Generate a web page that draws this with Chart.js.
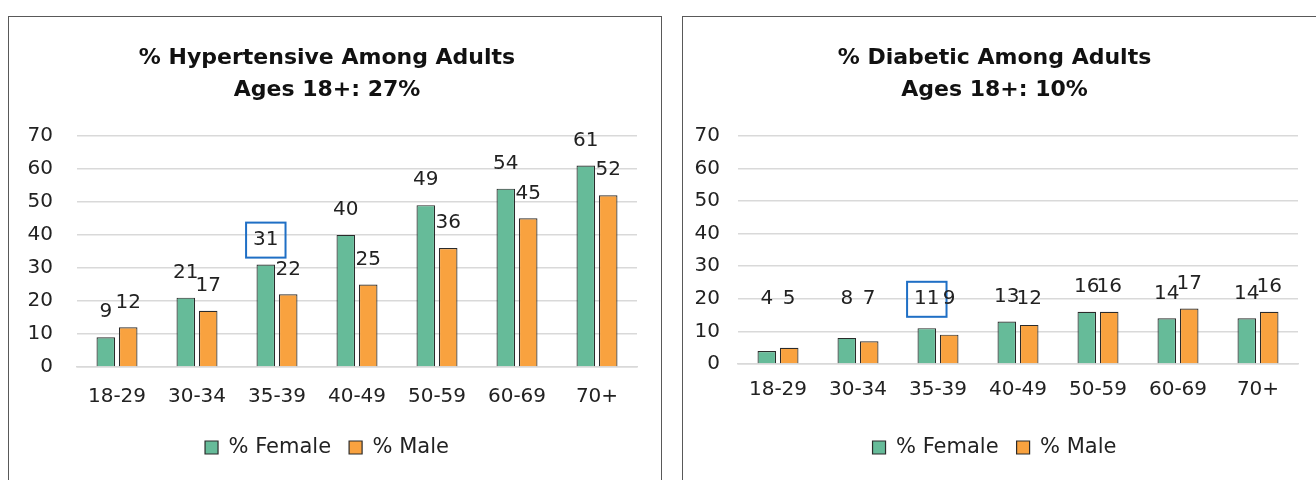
<!DOCTYPE html>
<html>
<head>
<meta charset="utf-8">
<script src="https://cdn.jsdelivr.net/npm/chart.js@4/dist/chart.umd.min.js"></script>
<style>
  html, body { margin: 0; padding: 0; background: #fff; overflow: hidden; }
  body { width: 1316px; height: 480px; position: relative; }
  .panel { position: absolute; top: 16px; border: 1.5px solid #595959; background: #fff; }
  #leftPanel { left: 8px; width: 652px; height: 480px; }
  #rightPanel { left: 682px; width: 660px; height: 480px; }
  canvas { display: block; }
</style>
</head>
<body>
<div class="panel" id="leftPanel"><canvas id="hyperChart" width="652" height="464"></canvas></div>
<div class="panel" id="rightPanel"><canvas id="diabChart" width="640" height="464"></canvas></div>
<script>
const ageGroups = ['18-29', '30-34', '35-39', '40-49', '50-59', '60-69', '70+'];
const hyperFemale = [9, 21, 31, 40, 49, 54, 61];
const hyperMale = [12, 17, 22, 25, 36, 45, 52];
const diabFemale = [4, 8, 11, 13, 16, 14, 14];
const diabMale = [5, 7, 9, 12, 16, 17, 16];
const seriesNames = ['% Female', '% Male'];
const highlightIndex = 2; // 35-39 female label gets a blue box

const FONT = "'DejaVu Sans', sans-serif";
const GREEN = '#66BB99';
const ORANGE = '#F9A23F';

// draws the value labels above the bars, plus the boxed label
const barLabels = {
    id: 'barLabels',
    afterDatasetsDraw(chart, args, opts) {
        const ctx = chart.ctx;
        const yScale = chart.scales.y;
        ctx.save();
        ctx.font = '20px ' + FONT;
        ctx.fillStyle = '#222';
        ctx.textAlign = 'center';
        ctx.textBaseline = 'middle';
        chart.data.datasets.forEach((ds, di) => {
            chart.getDatasetMeta(di).data.forEach((bar, i) => {
                let y = bar.y - opts.offset;
                if (opts.floor != null) y = Math.min(y, yScale.getPixelForValue(opts.floor));
                const txt = String(ds.data[i]);
                ctx.fillText(txt, bar.x, y);
                if (di === 0 && i === highlightIndex) {
                    const w = ctx.measureText(txt).width + 14;
                    ctx.strokeStyle = '#1F6FC5';
                    ctx.lineWidth = 2;
                    ctx.strokeRect(bar.x - w / 2, y - 17, w, 35);
                }
            });
        });
        ctx.restore();
    }
};

function makeChart(id, female, male, title, cfg) {
    return new Chart(document.getElementById(id).getContext('2d'), {
        type: 'bar',
        data: {
            labels: ageGroups,
            datasets: [
                { label: seriesNames[0], data: female, backgroundColor: GREEN, borderColor: '#2b2b2b', borderWidth: 1.2 },
                { label: seriesNames[1], data: male, backgroundColor: ORANGE, borderColor: '#2b2b2b', borderWidth: 1.2 }
            ]
        },
        plugins: [barLabels],
        options: {
            responsive: false,
            animation: false,
            categoryPercentage: 0.56,
            barPercentage: 0.83,
            layout: { padding: { left: 8, right: cfg.padRight, top: 0, bottom: 13 } },
            plugins: {
                legend: {
                    position: 'bottom',
                    labels: {
                        boxWidth: 13, boxHeight: 13, padding: 18,
                        color: '#222', font: { family: FONT, size: 21 }
                    }
                },
                title: {
                    display: true,
                    text: title,
                    color: '#111',
                    font: { family: FONT, size: 22, weight: 'bold', lineHeight: 1.45 },
                    padding: { top: 25, bottom: 30 }
                },
                tooltip: { enabled: false },
                barLabels: { offset: 25, floor: cfg.floor }
            },
            scales: {
                x: {
                    grid: { display: false },
                    border: { color: '#d9d9d9', width: 1.5 },
                    ticks: { color: '#222', font: { family: FONT, size: 20 }, padding: cfg.xPad },
                    afterFit(scale) { scale.height += cfg.xExtra; }
                },
                y: {
                    min: 0, max: 70,
                    ticks: { stepSize: 10, color: '#222', font: { family: FONT, size: 20 }, padding: cfg.yPad },
                    grid: { color: '#d9d9d9', lineWidth: 1.5, drawTicks: false },
                    border: { display: false },
                    afterFit(scale) { scale.width = cfg.yWidth; }
                }
            }
        }
    });
}

makeChart('hyperChart', hyperFemale, hyperMale, ['% Hypertensive Among Adults', 'Ages 18+: 27%'],
    { floor: null, padRight: 24, xPad: 10, xExtra: 0, yWidth: 60, yPad: 24 });
makeChart('diabChart', diabFemale, diabMale, ['% Diabetic Among Adults', 'Ages 18+: 10%'],
    { floor: 20, padRight: 25, xPad: 6, xExtra: 11, yWidth: 47, yPad: 18 });
</script>
</body>
</html>
